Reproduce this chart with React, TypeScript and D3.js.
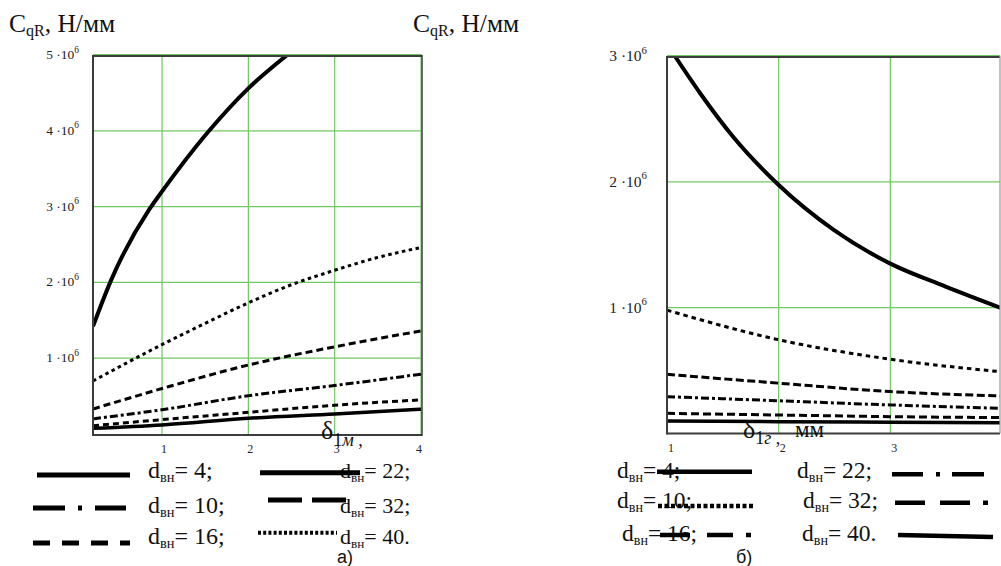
import React from "react";
import * as d3 from "d3";

// ---------- data (values in units of 1e6 Н/мм) ----------
// Left chart (а): x = δ1м, mm
const leftTopX = [0.2, 0.41, 0.85, 1.0, 1.53, 2.0, 2.45];
const leftTopY = [1.42, 2.03, 2.96, 3.2, 3.98, 4.56, 5.0];
const leftDotX = [0.2, 1, 1.5, 2, 2.5, 3, 3.5, 4];
const leftDotY = [0.7, 1.18, 1.46, 1.73, 1.97, 2.16, 2.33, 2.46];
const leftX = [0.2, 1, 2, 3, 4];
const leftLongDash = [0.33, 0.6, 0.91, 1.15, 1.36];
const leftDashDot = [0.2, 0.32, 0.505, 0.64, 0.79];
const leftDash = [0.11, 0.19, 0.286, 0.38, 0.45];
const leftSolidLow = [0.075, 0.12, 0.207, 0.265, 0.326];

// Right chart (б): x = δ1г, mm
const rightTopX = [1.07, 1.3, 1.59, 2, 2.49, 3, 3.49, 4];
const rightTopY = [3.0, 2.7, 2.36, 1.975, 1.62, 1.35, 1.17, 0.995];
const rightX = [1, 2, 3, 4];
const rightDot = [0.98, 0.745, 0.59, 0.49];
const rightDashA = [0.47, 0.4, 0.333, 0.298];
const rightDashDot = [0.293, 0.26, 0.227, 0.2];
const rightDashB = [0.16, 0.147, 0.134, 0.126];
const rightSolidLow = [0.1, 0.094, 0.09, 0.086];

const leftYTicks = [1, 2, 3, 4, 5];
const leftXTicks = [1, 2, 3, 4];
const rightYTicks = [1, 2, 3];
const rightXTicks = [1, 2, 3];

const legendA = ["=  4;", "= 10;", "= 16;", "= 22;", "= 32;", "= 40."];
const legendB = ["= 4;", "= 10;", "= 16;", "= 22;", "= 32;", "= 40."];

const SERIF = "Liberation Serif, Tinos, Times New Roman, DejaVu Serif, serif";
const SANS = "Liberation Sans, Arimo, Arial, DejaVu Sans, sans-serif";
const GRID = "#72c862";
const FRAME = "#3c3c3c";

const xL = d3.scaleLinear().domain([0.2, 4]).range([93, 421]);
const yL = d3.scaleLinear().domain([0, 5]).range([434, 55]);
const xR = d3.scaleLinear().domain([1, 4]).range([667, 1002]);
const yR = d3.scaleLinear().domain([0, 3]).range([433.5, 56]);

function pathOf(xs: number[], ys: number[], sx: any, sy: any) {
  const line = d3
    .line<number>()
    .x((_, i) => sx(xs[i]))
    .y((d) => sy(d))
    .curve(d3.curveMonotoneX);
  return line(ys) || "";
}

function Sup({ x, y, base, size = 13.5 }: any) {
  return (
    <text x={x} y={y} style={{ fontFamily: SERIF }} fontSize={size} textAnchor="end" fill="#222">
      {base + " \u00b710"}
      <tspan fontSize={size * 0.7} dy={-size * 0.48}>6</tspan>
    </text>
  );
}

function DLabel({ x, y, rest, size = 23.5 }: any) {
  return (
    <text x={x} y={y} style={{ fontFamily: SERIF }} fontSize={size} fill="#111">
      d
      <tspan fontSize={size * 0.6} dy={4}>вн</tspan>
      <tspan dy={-4}>{rest}</tspan>
    </text>
  );
}

export default function App() {
  const curveL = [
    { xs: leftTopX, ys: leftTopY, w: 4, dash: "" },
    { xs: leftDotX, ys: leftDotY, w: 3, dash: "3.5,3.5" },
    { xs: leftX, ys: leftLongDash, w: 3, dash: "7,4" },
    { xs: leftX, ys: leftDashDot, w: 3, dash: "8,3,3,3" },
    { xs: leftX, ys: leftDash, w: 3, dash: "6,4" },
    { xs: leftX, ys: leftSolidLow, w: 3.5, dash: "" },
  ];
  const curveR = [
    { xs: rightTopX, ys: rightTopY, w: 4, dash: "" },
    { xs: rightX, ys: rightDot, w: 3, dash: "4.5,4" },
    { xs: rightX, ys: rightDashA, w: 3, dash: "8,3.5" },
    { xs: rightX, ys: rightDashDot, w: 3, dash: "8,3,3,3" },
    { xs: rightX, ys: rightDashB, w: 3, dash: "8,4" },
    { xs: rightX, ys: rightSolidLow, w: 3.5, dash: "" },
  ];

  const lx0 = xL(0.2), lx1 = xL(4), ly0 = yL(0) + 1, ly1 = yL(5);
  const rx0 = xR(1), rx1 = 1000, ry0 = yR(0), ry1 = yR(3);
  const serif = { fontFamily: SERIF };
  const sans = { fontFamily: SANS };

  return (
    <svg width={1001} height={566} style={{ position: "absolute", left: 0, top: 0, background: "#fff" }}>
      <rect x={0} y={0} width={1001} height={566} fill="#fff" />
      {/* titles */}
      <text x={9} y={32} style={serif} fontSize={25.5} fill="#111">
        C<tspan fontSize={16} dy={4}>qR</tspan>
        <tspan dy={-4}>, Н/мм</tspan>
      </text>
      <text x={413} y={32} style={serif} fontSize={25.5} fill="#111">
        C<tspan fontSize={16} dy={4}>qR</tspan>
        <tspan dy={-4}>, Н/мм</tspan>
      </text>

      <defs>
        <clipPath id="clipL">
          <rect x={lx0} y={ly1} width={lx1 - lx0} height={ly0 - ly1} />
        </clipPath>
        <clipPath id="clipR">
          <rect x={rx0} y={ry1} width={rx1 - rx0} height={ry0 - ry1} />
        </clipPath>
      </defs>

      {/* ---- left chart ---- */}
      {leftYTicks.map((t) => (
        <line key={"lh" + t} x1={lx0} x2={lx1} y1={yL(t)} y2={yL(t)} stroke={GRID} strokeWidth={1.2} />
      ))}
      {leftXTicks.map((t) => (
        <line key={"lv" + t} x1={xL(t)} x2={xL(t)} y1={ly1} y2={ly0} stroke={GRID} strokeWidth={1.2} />
      ))}
      <g clipPath="url(#clipL)">
        {curveL.map((c, i) => (
          <path key={"cl" + i} d={pathOf(c.xs, c.ys, xL, yL)} fill="none" stroke="#000"
            strokeWidth={c.w} strokeDasharray={c.dash || undefined} />
        ))}
      </g>
      <line x1={lx0} x2={lx1 + 1} y1={ly1 + 1} y2={ly1 + 1} stroke={FRAME} strokeWidth={2} />
      <line x1={lx0} x2={lx1 + 1} y1={ly1 - 0.5} y2={ly1 - 0.5} stroke={GRID} strokeWidth={1} />
      <line x1={lx0} x2={lx0} y1={ly1} y2={ly0 + 1} stroke={FRAME} strokeWidth={2} />
      <line x1={lx0} x2={lx1 + 1} y1={ly0} y2={ly0} stroke={FRAME} strokeWidth={2} />
      <line x1={lx1 + 1} x2={lx1 + 1} y1={ly1} y2={ly0 + 1} stroke={FRAME} strokeWidth={1.5} />
      {leftYTicks.map((t) => (
        <Sup key={"ly" + t} x={79} y={yL(t) + 4} base={String(t)} />
      ))}
      {leftXTicks.map((t) => (
        <text key={"lx" + t} x={t === 4 ? xL(t) - 2 : xL(t) + 2} y={453} style={serif} fontSize={12}
          textAnchor="middle" fill="#222">{t}</text>
      ))}
      <text x={321} y={439} style={serif} fontSize={26} fill="#111">
        δ<tspan fontSize={18} dy={7}>1</tspan>
        <tspan fontSize={18} fontStyle="italic">м</tspan>
        <tspan fontSize={18}> ,</tspan>
      </text>

      {/* ---- right chart ---- */}
      {rightYTicks.map((t) => (
        <line key={"rh" + t} x1={rx0} x2={rx1} y1={yR(t)} y2={yR(t)} stroke={GRID} strokeWidth={1.2} />
      ))}
      {[2, 3].map((t) => (
        <line key={"rv" + t} x1={xR(t)} x2={xR(t)} y1={ry1} y2={ry0} stroke={GRID} strokeWidth={1.2} />
      ))}
      <g clipPath="url(#clipR)">
        {curveR.map((c, i) => (
          <path key={"cr" + i} d={pathOf(c.xs, c.ys, xR, yR)} fill="none" stroke="#000"
            strokeWidth={c.w} strokeDasharray={c.dash || undefined} />
        ))}
      </g>
      <line x1={rx0} x2={rx1} y1={ry1 + 1} y2={ry1 + 1} stroke={FRAME} strokeWidth={2} />
      <line x1={rx0} x2={rx1} y1={ry1 - 0.5} y2={ry1 - 0.5} stroke={GRID} strokeWidth={1} />
      <line x1={rx0} x2={rx0} y1={ry1} y2={ry0 + 1} stroke={FRAME} strokeWidth={2} />
      <line x1={rx0} x2={rx1} y1={ry0} y2={ry0} stroke={FRAME} strokeWidth={2} />
      <line x1={rx1} x2={rx1} y1={ry1} y2={ry0} stroke="#999" strokeWidth={1.2} />
      {rightYTicks.map((t) => (
        <Sup key={"ry" + t} x={647} y={yR(t) + 5} base={String(t)} size={15.5} />
      ))}
      {rightXTicks.map((t) => (
        <text key={"rx" + t} x={xR(t) + 4} y={452} style={serif} fontSize={12}
          textAnchor="middle" fill="#222">{t}</text>
      ))}
      <text x={743} y={438} style={serif} fontSize={26} fill="#111">
        δ<tspan fontSize={18} dy={6}>1</tspan>
        <tspan fontSize={18} fontStyle="italic">г</tspan>
        <tspan fontSize={18}> ,</tspan>
      </text>
      <text x={795} y={437} style={serif} fontSize={23} fill="#111">мм</text>

      {/* ---- legend а ---- */}
      <DLabel x={148} y={478} rest={legendA[0]} size={24} />
      <DLabel x={148} y={513} rest={legendA[1]} size={24} />
      <DLabel x={148} y={544} rest={legendA[2]} size={24} />
      <DLabel x={340} y={478} rest={legendA[3]} size={22} />
      <DLabel x={340} y={513} rest={legendA[4]} size={22} />
      <DLabel x={340} y={544} rest={legendA[5]} size={22} />
      <line x1={37} x2={130} y1={475} y2={475} stroke="#000" strokeWidth={5} />
      <line x1={33} x2={127} y1={508} y2={508} stroke="#000" strokeWidth={5} strokeDasharray="32,13,4,13,31,100" />
      <line x1={33} x2={130} y1={543} y2={543} stroke="#000" strokeWidth={5} strokeDasharray="17,12" />
      <line x1={260} x2={360} y1={472.7} y2={472.7} stroke="#000" strokeWidth={5} />
      <line x1={268} x2={350} y1={500} y2={500} stroke="#000" strokeWidth={5} strokeDasharray="34,10" />
      <line x1={258} x2={337} y1={532.7} y2={532.7} stroke="#000" strokeWidth={4} strokeDasharray="3,2.2" />
      <text x={337} y={563} style={sans} fontSize={18} fill="#111">а)</text>

      {/* ---- legend б ---- */}
      <DLabel x={617} y={478} rest={legendB[0]} />
      <DLabel x={617} y={508} rest={legendB[1]} />
      <DLabel x={622} y={541} rest={legendB[2]} />
      <DLabel x={797} y={478} rest={legendB[3]} />
      <DLabel x={803} y={508} rest={legendB[4]} />
      <DLabel x={802} y={541} rest={legendB[5]} />
      <line x1={657} x2={752} y1={471.7} y2={471.7} stroke="#000" strokeWidth={4.5} />
      <line x1={658} x2={755} y1={506} y2={506} stroke="#000" strokeWidth={4.5} strokeDasharray="4,2.5" />
      <line x1={660} x2={752} y1={535} y2={535} stroke="#000" strokeWidth={4.5} strokeDasharray="30,17,26,13,5,100" />
      <line x1={892} x2={984} y1={474.3} y2={474.3} stroke="#000" strokeWidth={4.5} strokeDasharray="31,13,4,12,32,100" />
      <line x1={895} x2={989} y1={502.7} y2={502.7} stroke="#000" strokeWidth={4.5} strokeDasharray="30,15,30,13,5,100" />
      <line x1={898} x2={993} y1={535} y2={537} stroke="#000" strokeWidth={4.5} />
      <text x={736} y={563} style={sans} fontSize={18} fill="#111">б)</text>
    </svg>
  );
}
